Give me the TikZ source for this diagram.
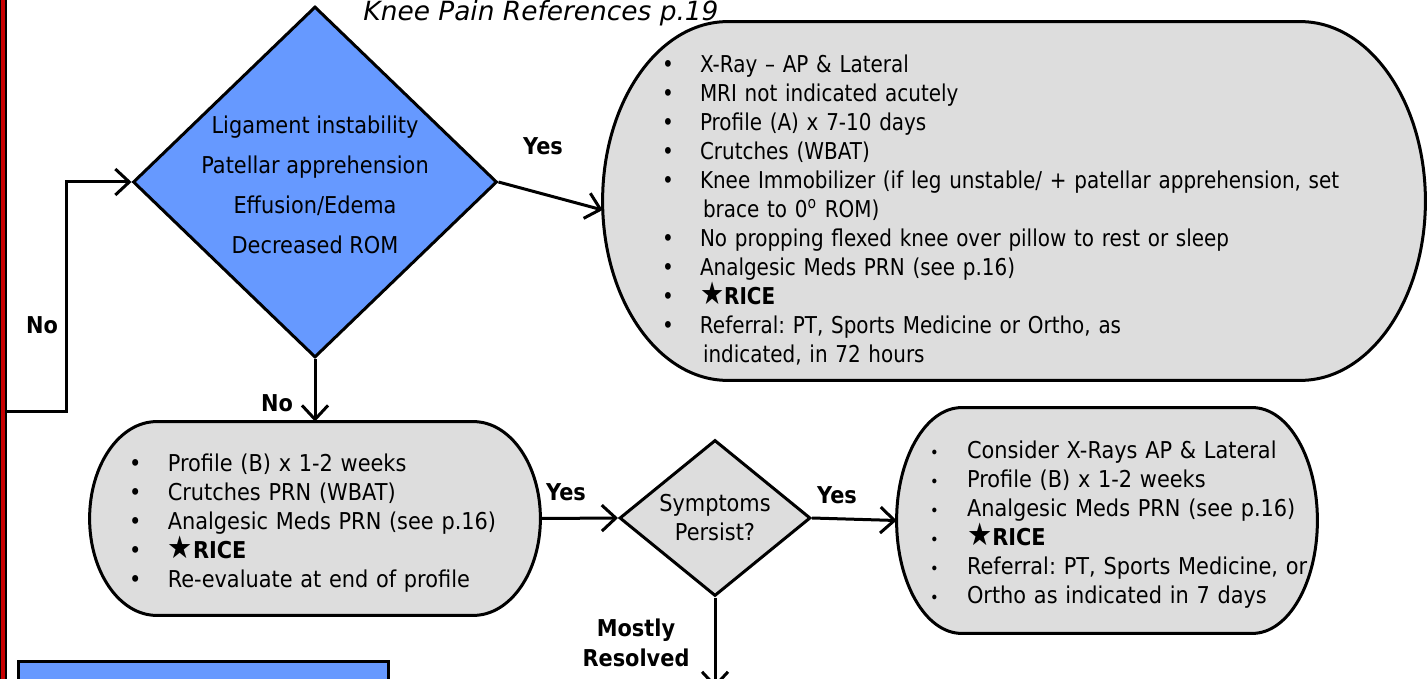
\documentclass[tikz,border=0pt]{standalone}
\usepackage{fontspec}
\setmainfont{DejaVu Sans}[FakeStretch=0.9]
\newfontfamily\narrowfont{DejaVu Sans}[FakeStretch=0.86]
\newfontfamily\widefont{DejaVu Sans}
\usetikzlibrary{shapes.geometric,arrows.meta,calc,backgrounds}

\definecolor{decblue}{RGB}{102,153,255}
\definecolor{boxgray}{RGB}{221,221,221}
\definecolor{edgered}{RGB}{200,0,0}

\newcommand{\bitem}[2][19pt]{\mbox{\makebox[#1][l]{\textbullet}#2}}
\newcommand{\sitem}[1]{\mbox{\makebox[18.5pt][l]{\scalebox{0.7}{\textbullet}}#1}}
\newcommand{\bcont}[1]{\mbox{\hspace*{20.5pt}#1}}
\newcommand{\rice}{\scalebox{1.35}{★}\textbf{RICE}}
\newcommand{\pill}[2]{%
	\path[pillline] let \p1=(#1.north west), \p2=(#1.south east), \n1={(\y1-\y2)/2} in
		(\x1+#2,\y1) -- (\x2-#2,\y1) arc[start angle=90, end angle=-90, x radius=#2, y radius=\n1]
		-- (\x1+#2,\y2) arc[start angle=270, end angle=90, x radius=#2, y radius=\n1] -- cycle;
}

\tikzset{
	flow/.style={line width=1.5pt, -{Straight Barb[length=7pt,width=13pt]}},
	decision/.style={diamond, draw, line width=1.5pt, inner sep=-10pt, align=center},
	carebox/.style={inner ysep=0pt, align=left, font=\frenchspacing\fontsize{11.6}{14.5}\selectfont},
	pillline/.style={draw, fill=boxgray, line width=1.5pt},
	lbl/.style={font=\bfseries\fontsize{11.6}{15}\selectfont, align=center},
}

\begin{document}
\begin{tikzpicture}[x=0.5pt, y=-0.5pt]
	\useasboundingbox (0,0) rectangle (1428,679);
	\fill[black] (0,0) rectangle (7,679);
	\fill[edgered] (1,0) rectangle (5,679);

	\node[anchor=base, font=\widefont\itshape\fontsize{13.2}{15}\selectfont] (title) at (541,21) {Knee Pain References p.19};

	\node[decision, fill=decblue, minimum width=182pt, minimum height=175.5pt, font=\fontsize{11.6}{20}\selectfont] (dec) at (315,182)
		{\rule{0pt}{11.8pt}Ligament instability\\Patellar apprehension\\Effusion/Edema\\Decreased ROM};

	\node[carebox, font=\frenchspacing\narrowfont\fontsize{11.6}{14.5}\selectfont, inner xsep=29.5pt, text width=352pt, minimum height=179pt] (care1) at (1014,201)
		{\bitem{\rule{0pt}{17.8pt}X-Ray – AP \& Lateral}\\
		\bitem{MRI not indicated acutely}\\
		\bitem{Profile (A) x 7-10 days}\\
		\bitem{Crutches (WBAT)}\\
		\bitem{Knee Immobilizer (if leg unstable/ + patellar apprehension, set}\\
		\bcont{brace to 0\textsuperscript{o} ROM)}\\
		\bitem{No propping flexed knee over pillow to rest or sleep}\\
		\bitem{Analgesic Meds PRN (see p.16)}\\
		\bitem{\rice}\\
		\bitem{Referral: PT, Sports Medicine or Ortho, as}\\
		\bcont{indicated, in 72 hours}};

	\node[carebox, inner xsep=19.5pt, text width=186pt, minimum height=96.5pt] (care2) at (315,518.5)
		{\bitem[19.4pt]{\rule{0pt}{13.8pt}Profile (B) x 1-2 weeks}\\
		\bitem[19.4pt]{Crutches PRN (WBAT)}\\
		\bitem[19.4pt]{Analgesic Meds PRN (see p.16)}\\
		\bitem[19.4pt]{\rice}\\
		\bitem[19.4pt]{Re-evaluate at end of profile}};

	\node[decision, fill=boxgray, minimum width=95.5pt, minimum height=78pt, font=\fontsize{11.6}{14.5}\selectfont] (sym) at (715,518)
		{Symptoms\\Persist?};

	\node[carebox, inner xsep=16.5pt, text width=177pt, minimum height=112.5pt] (care3) at (1107,520.5)
		{\sitem{\rule{0pt}{13.3pt}Consider X-Rays AP \& Lateral}\\
		\sitem{Profile (B) x 1-2 weeks}\\
		\sitem{Analgesic Meds PRN (see p.16)}\\
		\sitem{\rice}\\
		\sitem{Referral: PT, Sports Medicine, or}\\
		\sitem{Ortho as indicated in 7 days}};

	\node[draw, fill=decblue, line width=1.5pt, minimum width=185pt, minimum height=30pt, inner sep=0pt] (key) at (203,691) {};

	\begin{scope}[on background layer]
		\pill{care1}{62.5pt}
		\pill{care2}{33.5pt}
		\pill{care3}{32.5pt}
	\end{scope}

	\coordinate (entry) at (6,411);
	\coordinate (exit) at (715,688);

	\draw[flow] (entry) -| ([xshift=-32.5pt]dec.west) -- (dec.west);
	\draw[flow] (dec.east) -- ([yshift=-4.5pt]care1.west);
	\draw[flow] (dec.south) -- (care2.north);
	\draw[flow] (care2.east) -- (sym.west);
	\draw[flow] (sym.east) -- (care3.west);
	\draw[flow] (sym.south) -- (exit);

	\node[lbl] (no1) at (42,325) {No};
	\node[lbl] (yes1) at (543,146) {Yes};
	\node[lbl] (no2) at (277,403) {No};
	\node[lbl] (yes2) at (566,492) {Yes};
	\node[lbl] (yes3) at (837,495) {Yes};
	\node[lbl] (resolved) at (636,643) {Mostly\\Resolved};
\end{tikzpicture}
\end{document}
